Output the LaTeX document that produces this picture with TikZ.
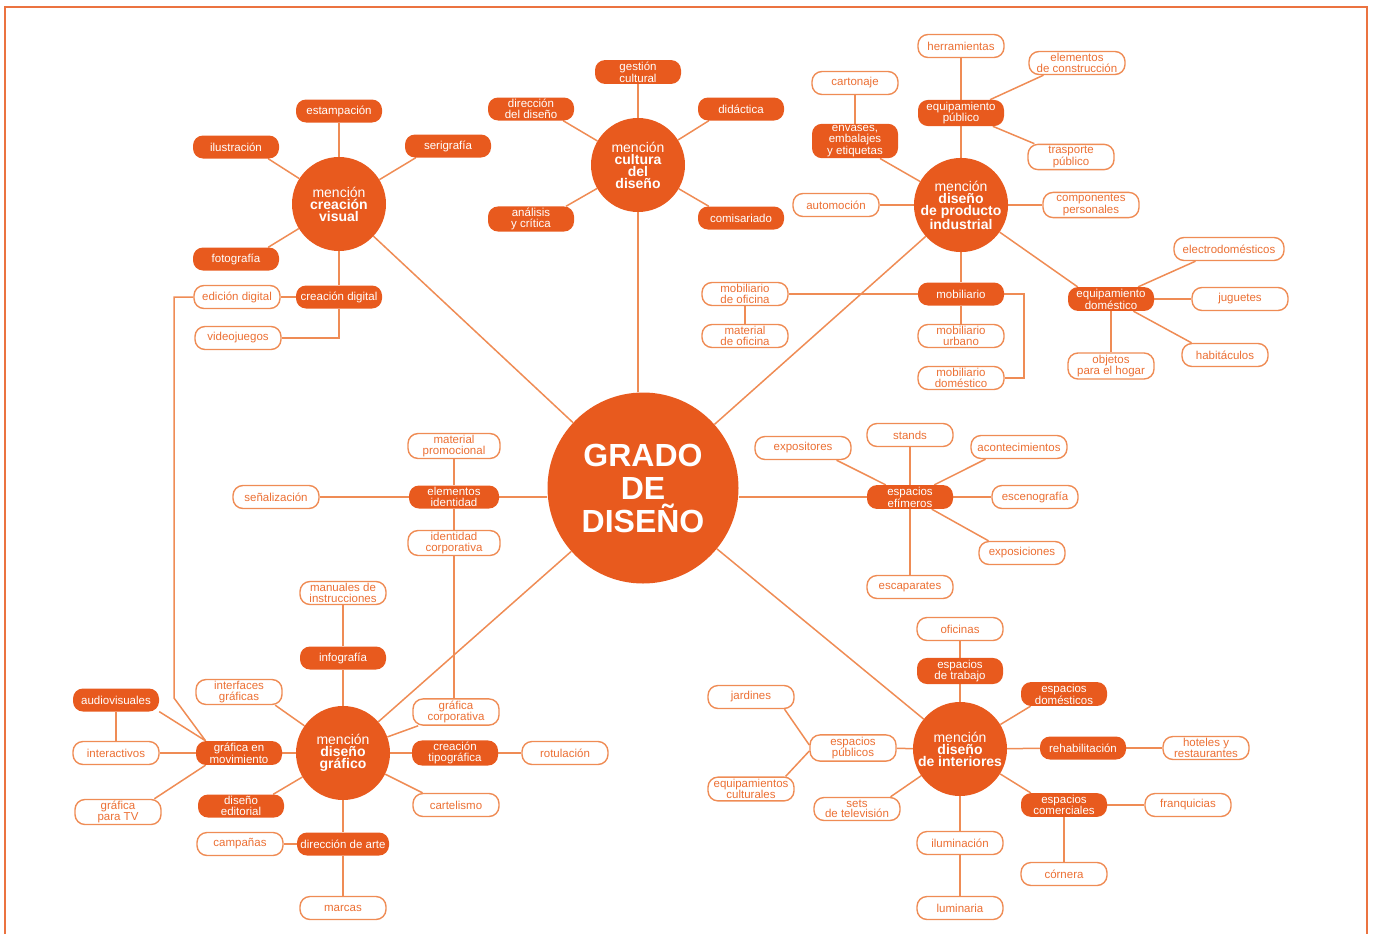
\documentclass[tikz,border=0pt]{standalone}
\usepackage{fontspec}
\setmainfont{Liberation Sans}
\usepackage{tikz}
\usetikzlibrary{backgrounds}
\definecolor{naranja}{RGB}{232,90,30}
\definecolor{linea}{RGB}{239,140,85}
\definecolor{letra}{RGB}{236,112,52}

\begin{document}
\begin{tikzpicture}[x=1pt, y=-1pt,
        rama/.style={fill=naranja, text=white, rounded corners=10pt, minimum width=86pt, minimum height=23pt, inner xsep=3pt, inner ysep=1.8pt, align=center, font=\fontsize{11.5}{10.6}\selectfont},
        hoja/.style={rama, draw=linea, line width=1.4pt, fill=white, text=letra},
        mencion/.style={circle, fill=naranja, text=white, minimum size=94pt, inner sep=0pt, align=center, font=\fontsize{14}{12}\selectfont},
        grado/.style={circle, fill=naranja, text=white, minimum size=191pt, inner sep=0pt, align=center, font=\fontsize{32}{33}\selectfont\bfseries},
        enlace/.style={draw=linea, line width=1.5pt}]
        \useasboundingbox (0,0) rectangle (1375,934);
        \draw[naranja!85, line width=2pt] (5,934) -- (5,7) -- (1367,7) -- (1367,934);

        \node[grado] (grado) at (643,488) {GRADO\\DE\\DISEÑO};

        \node[mencion] (cvis) at (339,204) {mención\\\textbf{creación}\\\textbf{visual}};
        \node[rama] (estam) at (339,111) {estampación};
        \node[rama] (ilus) at (236,147) {ilustración};
        \node[rama] (seri) at (448,146) {serigrafía};
        \node[rama] (foto) at (236,259) {fotografía};
        \node[rama] (cdig) at (339,297) {creación digital};
        \node[hoja] (edig) at (237,297) {edición digital};
        \node[hoja] (vjue) at (238,338) {videojuegos};

        \node[mencion] (cult) at (638,165) {mención\\\textbf{cultura}\\\textbf{del}\\\textbf{diseño}};
        \node[rama] (gest) at (638,72) {gestión\\cultural};
        \node[rama] (dire) at (531,109) {dirección\\del diseño};
        \node[rama] (dida) at (741,109) {didáctica};
        \node[rama] (anal) at (531,219) {análisis\\y crítica};
        \node[rama] (comi) at (741,218) {comisariado};

        \node[mencion] (prod) at (961,205) {mención\\\textbf{diseño}\\\textbf{de producto}\\\textbf{industrial}};
        \node[rama] (epub) at (961,113) {equipamiento\\público};
        \node[hoja] (herr) at (961,46) {herramientas};
        \node[hoja, minimum width=96pt] (econ) at (1077,63) {elementos\\de construcción};
        \node[hoja] (tpub) at (1071,157) {trasporte\\público};
        \node[hoja] (cart) at (855,83) {cartonaje};
        \node[rama] (enva) at (855,141) {envases,\\embalajes\\y etiquetas};
        \node[hoja] (auto) at (836,205) {automoción};
        \node[hoja, minimum width=96pt] (cper) at (1091,205) {componentes\\personales};
        \node[rama] (mobi) at (961,294) {mobiliario};
        \node[hoja] (mofi) at (745,294) {mobiliario\\de oficina};
        \node[hoja] (mate) at (745,336) {material\\de oficina};
        \node[hoja] (murb) at (961,336) {mobiliario\\urbano};
        \node[hoja] (mdom) at (961,378) {mobiliario\\doméstico};
        \node[rama] (edom) at (1111,299) {equipamiento\\doméstico};
        \node[hoja, minimum width=110pt] (elec) at (1229,249) {electrodomésticos};
        \node[hoja, minimum width=96pt] (jugu) at (1240,299) {juguetes};
        \node[hoja] (habi) at (1225,355) {habitáculos};
        \node[hoja] (obje) at (1111,366) {objetos\\para el hogar};

        \node[rama, minimum width=90pt] (elid) at (454,497) {elementos\\identidad};
        \node[hoja, minimum width=92pt] (mpro) at (454,446) {material\\promocional};
        \node[hoja, minimum width=92pt] (icor) at (454,543) {identidad\\corporativa};
        \node[hoja] (senal) at (276,497) {señalización};

        \node[rama] (efim) at (910,497) {espacios\\efímeros};
        \node[hoja] (stan) at (910,435) {stands};
        \node[hoja, minimum width=96pt] (expo) at (803,448) {expositores};
        \node[hoja, minimum width=96pt] (acon) at (1019,447) {acontecimientos};
        \node[hoja] (esce) at (1035,497) {escenografía};
        \node[hoja] (expn) at (1022,553) {exposiciones};
        \node[hoja] (esca) at (910,587) {escaparates};

        \node[mencion] (graf) at (343,753) {mención\\\textbf{diseño}\\\textbf{gráfico}};
        \node[rama] (info) at (343,658) {infografía};
        \node[hoja] (manu) at (343,593) {manuales de\\instrucciones};
        \node[hoja] (intf) at (239,692) {interfaces\\gráficas};
        \node[hoja] (gcor) at (456,712) {gráfica\\corporativa};
        \node[rama] (ctip) at (455,753) {creación\\tipográfica};
        \node[hoja] (rotu) at (565,753) {rotulación};
        \node[hoja] (cartl) at (456,805) {cartelismo};
        \node[rama, minimum width=92pt] (darte) at (343,844) {dirección de arte};
        \node[hoja] (camp) at (240,844) {campañas};
        \node[hoja] (marc) at (343,908) {marcas};
        \node[rama] (edit) at (241,806) {diseño\\editorial};
        \node[rama] (gmov) at (239,753) {gráfica en\\movimiento};
        \node[rama] (audi) at (116,700) {audiovisuales};
        \node[hoja] (inta) at (116,753) {interactivos};
        \node[hoja] (gtv) at (118,812) {gráfica\\para TV};

        \node[mencion] (inte) at (960,749) {mención\\\textbf{diseño}\\\textbf{de interiores}};
        \node[rama] (etra) at (960,671) {espacios\\de trabajo};
        \node[hoja] (ofic) at (960,629) {oficinas};
        \node[rama] (edomi) at (1064,694) {espacios\\domésticos};
        \node[rama] (rehab) at (1083,748) {rehabilitación};
        \node[hoja] (hote) at (1206,748) {hoteles y\\restaurantes};
        \node[rama] (ecom) at (1064,805) {espacios\\comerciales};
        \node[hoja] (fran) at (1188,805) {franquicias};
        \node[hoja] (corn) at (1064,874) {córnera};
        \node[hoja] (ilum) at (960,843) {iluminación};
        \node[hoja] (lumi) at (960,908) {luminaria};
        \node[hoja] (sets) at (857,809) {sets\\de televisión};
        \node[hoja] (epubl) at (853,748) {espacios\\públicos};
        \node[hoja] (jard) at (751,697) {jardines};
        \node[hoja] (ecul) at (751,789) {equipamientos\\culturales};

        \coordinate (codo1) at (174,297);
        \coordinate (codo2) at (174,698);

        \begin{scope}[on background layer]
        \draw[enlace] (grado) -- (cvis);
        \draw[enlace] (cult) -- (cult |- grado.north);
        \draw[enlace] (grado) -- (prod);
        \draw[enlace] (elid) -- (elid -| grado.west);
        \draw[enlace] (efim) -- (efim -| grado.east);
        \draw[enlace] (grado) -- (graf);
        \draw[enlace] (grado) -- (inte);

        \draw[enlace] (cvis) -- (estam);
        \draw[enlace] (cvis) -- (ilus.-20);
        \draw[enlace] (cvis) -- (seri.200);
        \draw[enlace] (cvis) -- (foto.20);
        \draw[enlace] (cvis) -- (cdig);
        \draw[enlace] (cdig) -- (edig);
        \draw[enlace] (vjue.east) -| (cdig.south);
        \draw[enlace] (edig) -- (codo1) -- (codo2) -- (gmov.160);

        \draw[enlace] (cult) -- (gest);
        \draw[enlace] (cult) -- (dire.-20);
        \draw[enlace] (cult) -- (dida.200);
        \draw[enlace] (cult) -- (anal.20);
        \draw[enlace] (cult) -- (comi.160);

        \draw[enlace] (prod) -- (epub);
        \draw[enlace] (epub) -- (herr);
        \draw[enlace] (epub) -- (econ.200);
        \draw[enlace] (epub) -- (tpub.160);
        \draw[enlace] (cart) -- (enva);
        \draw[enlace] (enva.-35) -- (prod);
        \draw[enlace] (prod) -- (auto);
        \draw[enlace] (prod) -- (cper);
        \draw[enlace] (prod) -- (mobi);
        \draw[enlace] (prod) -- (edom.160);
        \draw[enlace] (mobi) -- (mofi);
        \draw[enlace] (mofi) -- (mate);
        \draw[enlace] (mobi) -- (murb);
        \draw[enlace] (mobi.east) -- ++(20,0) |- (mdom.east);
        \draw[enlace] (edom) -- (elec.200);
        \draw[enlace] (edom) -- (jugu);
        \draw[enlace] (edom) -- (habi.160);
        \draw[enlace] (edom) -- (obje);

        \draw[enlace] (senal) -- (elid);
        \draw[enlace] (elid) -- (mpro);
        \draw[enlace] (elid) -- (icor);
        \draw[enlace] (icor) -- (icor |- gcor.north);

        \draw[enlace] (efim) -- (stan);
        \draw[enlace] (efim) -- (expo.-20);
        \draw[enlace] (efim) -- (acon.200);
        \draw[enlace] (efim) -- (esce);
        \draw[enlace] (efim) -- (expn.160);
        \draw[enlace] (efim) -- (esca);

        \draw[enlace] (graf) -- (info);
        \draw[enlace] (info) -- (manu);
        \draw[enlace] (graf) -- (intf.-20);
        \draw[enlace] (graf) -- (gcor.200);
        \draw[enlace] (graf) -- (ctip);
        \draw[enlace] (ctip) -- (rotu);
        \draw[enlace] (graf) -- (cartl.160);
        \draw[enlace] (graf) -- (darte);
        \draw[enlace] (darte) -- (camp);
        \draw[enlace] (darte) -- (marc);
        \draw[enlace] (graf) -- (edit.20);
        \draw[enlace] (graf) -- (gmov);
        \draw[enlace] (gmov) -- (inta);
        \draw[enlace] (inta) -- (audi);
        \draw[enlace] (audi.-15) -- (gmov.160);
        \draw[enlace] (gtv.20) -- (gmov.200);

        \draw[enlace] (inte) -- (etra);
        \draw[enlace] (etra) -- (ofic);
        \draw[enlace] (inte) -- (edomi.200);
        \draw[enlace] (inte) -- (rehab);
        \draw[enlace] (rehab) -- (hote);
        \draw[enlace] (inte) -- (ecom.160);
        \draw[enlace] (ecom) -- (fran);
        \draw[enlace] (ecom) -- (corn);
        \draw[enlace] (inte) -- (ilum);
        \draw[enlace] (ilum) -- (lumi);
        \draw[enlace] (inte) -- (sets.20);
        \draw[enlace] (inte) -- (epubl);
        \draw[enlace] (jard.-20) -- ([yshift=3pt]epubl.west);
        \draw[enlace] (ecul.20) -- ([yshift=-3pt]epubl.west);
        \end{scope}

\end{tikzpicture}
\end{document}
